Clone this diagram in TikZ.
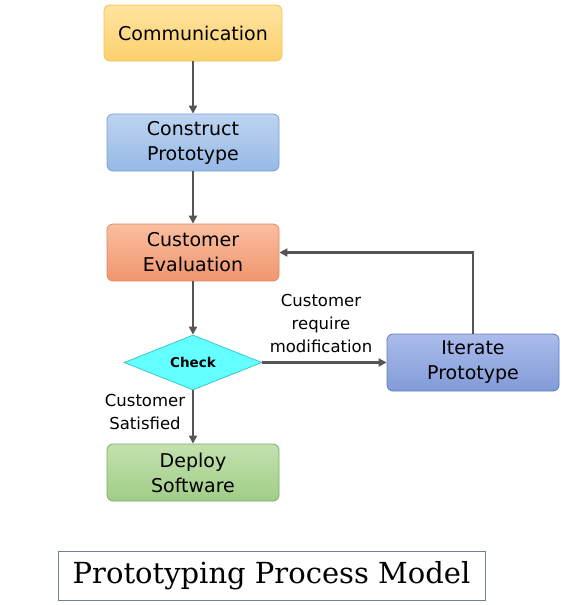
\documentclass[tikz,border=0pt]{standalone}
\usepackage{fontspec}
\setmainfont{DejaVu Sans}
\newfontfamily\titlefont{DejaVu Serif}
\usetikzlibrary{shapes.geometric,arrows.meta}
\definecolor{arr}{HTML}{555555}
\tikzset{
  box/.style={draw, rounded corners=6pt, line width=0.8pt, minimum width=172pt, minimum height=57pt, align=center, font=\fontsize{19}{25}\selectfont, text=black},
  flow/.style={draw=arr, line width=2.4pt, -{Triangle[length=8pt,width=8pt]}},
  lbl/.style={align=center, font=\fontsize{16.5}{23}\selectfont},
}
\begin{document}
\begin{tikzpicture}[x=1pt,y=-1pt]
\useasboundingbox (0,0) rectangle (566,605);
\node[box, minimum width=178pt, minimum height=56pt, draw={rgb,255:red,240;green,196;blue,80}, top color={rgb,255:red,255;green,228;blue,160}, bottom color={rgb,255:red,252;green,208;blue,110}] (comm) at (193,33) {Communication};
\node[box, draw={rgb,255:red,120;green,160;blue,215}, top color={rgb,255:red,190;green,212;blue,240}, bottom color={rgb,255:red,150;green,185;blue,230}] (cons) at (193,142.5) {Construct\\Prototype};
\node[box, draw={rgb,255:red,225;green,135;blue,95}, top color={rgb,255:red,250;green,190;blue,160}, bottom color={rgb,255:red,240;green,150;blue,110}] (eval) at (193,252.5) {Customer\\Evaluation};
\node[draw={rgb,255:red,60;green,200;blue,200}, line width=0.8pt, fill={rgb,255:red,100;green,255;blue,255}, diamond, aspect=2.5, minimum width=138pt, minimum height=55pt, inner sep=0pt, font=\fontsize{13.5}{15}\bfseries\selectfont] (check) at (193,362.5) {Check};
\node[box, draw={rgb,255:red,120;green,175;blue,100}, top color={rgb,255:red,195;green,225;blue,175}, bottom color={rgb,255:red,160;green,205;blue,135}] (dep) at (193,472.5) {Deploy\\Software};
\node[box, draw={rgb,255:red,95;green,125;blue,195}, top color={rgb,255:red,170;green,188;blue,235}, bottom color={rgb,255:red,130;green,155;blue,215}] (iter) at (473,362.5) {Iterate\\Prototype};
\draw[flow] (comm) -- (cons);
\draw[flow] (cons) -- (eval);
\draw[flow] (eval) -- (check);
\draw[flow] (check) -- (dep);
\draw[flow] (check.east) -- (iter.west);
\draw[flow] (iter.north) |- (eval.east);
\node[lbl] (mod) at (321,323) {Customer\\require\\modification};
\node[lbl] (sat) at (145,412) {Customer\\Satisfied};
\node[draw={rgb,255:red,110;green,130;blue,150}, line width=0.8pt, minimum width=427pt, minimum height=49pt, font=\titlefont\fontsize{29}{32}\selectfont] (title) at (271.5,575.5) {Prototyping Process Model};
\end{tikzpicture}
\end{document}
